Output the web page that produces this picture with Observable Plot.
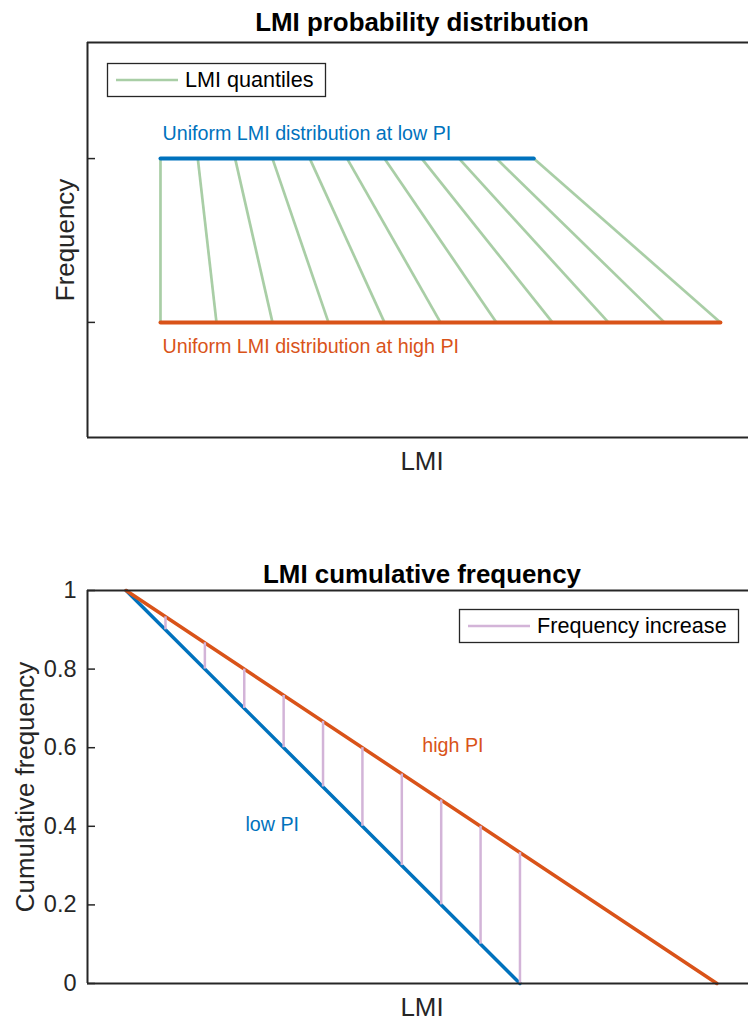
<!DOCTYPE html>
<html>
<head>
<meta charset="utf-8">
<script src="https://cdn.jsdelivr.net/npm/d3@7"></script>
<script src="https://cdn.jsdelivr.net/npm/@observablehq/plot@0.6"></script>
<style>
  html, body { margin: 0; padding: 0; background: #fff; overflow: hidden; }
  #wrap { position: relative; width: 748px; height: 1020px; overflow: hidden; font-family: "Liberation Sans", Arial, sans-serif; }
  #wrap > svg { display: block; overflow: hidden; }
  #overlay { position: absolute; left: 0; top: 0; pointer-events: none; }
</style>
</head>
<body>
<div id="wrap"></div>
<script>
// ---------- data ----------
const quantileLevels = [0, 0.1, 0.2, 0.3, 0.4, 0.5, 0.6, 0.7, 0.8, 0.9, 1.0];
const lowPI_LMI  = [0, 0.1, 0.2, 0.3, 0.4, 0.5, 0.6, 0.7, 0.8, 0.9, 1.0];
const highPI_LMI = [0, 0.15, 0.3, 0.45, 0.6, 0.75, 0.9, 1.05, 1.2, 1.35, 1.5];
const lowPI_range  = [0, 1.0];
const highPI_range = [0, 1.5];
const lowPI_density  = 1.0;
const highPI_density = 0.667;
const lowPI_cum  = [1, 0.9, 0.8, 0.7, 0.6, 0.5, 0.4, 0.3, 0.2, 0.1, 0];
const highPI_cum = [1, 0.933, 0.867, 0.8, 0.733, 0.667, 0.6, 0.533, 0.467, 0.4, 0.333];
const cumEnds = [1, 0];
const topYTicks = [highPI_density, lowPI_density];
const bottomYTicks = [0, 0.2, 0.4, 0.6, 0.8, 1];
const bottomYTickLabels = ["0", "0.2", "0.4", "0.6", "0.8", "1"];

const topTitle = "LMI probability distribution";
const bottomTitle = "LMI cumulative frequency";
const xLabel = "LMI";
const topYLabel = "Frequency";
const bottomYLabel = "Cumulative frequency";
const topLowText = {x: 0, y: 1.037, text: "Uniform LMI distribution at low PI"};
const topHighText = {x: 0, y: 0.604, text: "Uniform LMI distribution at high PI"};
const botHighText = {x: 0.752, y: 0.588, text: "high PI"};
const botLowText = {x: 0.303, y: 0.387, text: "low PI"};
const legendTop = "LMI quantiles";
const legendBottom = "Frequency increase";

// ---------- styles ----------
const BLUE = "#0072BD", ORANGE = "#D95319", GREEN = "#a9cea6", PINK = "#d3b4d8", AX = "#262626";
const FONT = "Liberation Sans, Arial, Helvetica, sans-serif";
const TITLE_FS = 25.9, LABEL_FS = 25.9, TICK_FS = 23.5, ANN_FS = 19.7, LEG_FS = 21.6;

const idx = quantileLevels.map((_, i) => i);

// ---------- top panel ----------
const topXDomain = [-0.1955, 1.594];
const topYDomain = [0.433, 1.236];
const topPlot = Plot.plot({
  width: 748, height: 500,
  marginTop: 42, marginBottom: 63, marginLeft: 87, marginRight: 0,
  x: {domain: topXDomain, range: [87, 755], axis: null},
  y: {domain: topYDomain, axis: null},
  style: {fontFamily: FONT, background: "white", overflow: "hidden"},
  marks: [
    Plot.link(idx, {x1: i => lowPI_LMI[i], y1: () => lowPI_density, x2: i => highPI_LMI[i], y2: () => highPI_density, stroke: GREEN, strokeWidth: 2.7}),
    Plot.line(lowPI_range, {x: d => d, y: () => lowPI_density, stroke: BLUE, strokeWidth: 4}),
    Plot.line(highPI_range, {x: d => d, y: () => highPI_density, stroke: ORANGE, strokeWidth: 4}),
    Plot.ruleX([topXDomain[0]], {stroke: AX, strokeWidth: 2}),
    Plot.ruleY([topYDomain[0], topYDomain[1]], {stroke: AX, strokeWidth: 2}),
    Plot.tickY(topYTicks, {y: d => d, insetRight: 653, stroke: AX, strokeWidth: 1.5}),
    Plot.text([topLowText], {x: "x", y: "y", text: "text", dx: 2, textAnchor: "start", lineAnchor: "bottom", fill: BLUE, fontSize: ANN_FS}),
    Plot.text([topHighText], {x: "x", y: "y", text: "text", dx: 2, textAnchor: "start", lineAnchor: "bottom", fill: ORANGE, fontSize: ANN_FS}),
    Plot.text([topTitle], {text: d => d, frameAnchor: "top", dx: 4, dy: -12, textAnchor: "middle", lineAnchor: "bottom", fontSize: TITLE_FS, fontWeight: "bold", fill: "#000"}),
    Plot.text([xLabel], {text: d => d, frameAnchor: "bottom", dx: 4, dy: 32, textAnchor: "middle", lineAnchor: "bottom", fontSize: LABEL_FS, fill: AX}),
    Plot.text([topYLabel], {text: d => d, frameAnchor: "left", dx: -14, rotate: -90, textAnchor: "middle", lineAnchor: "bottom", fontSize: LABEL_FS, fill: AX})
  ]
});

// ---------- bottom panel ----------
const botXDomain = [-0.098, 1.598];
const botYDomain = [0, 1];
const botPlot = Plot.plot({
  width: 748, height: 520,
  marginTop: 90, marginBottom: 37, marginLeft: 87, marginRight: 0,
  x: {domain: botXDomain, range: [87, 755], axis: null},
  y: {domain: botYDomain},
  style: {fontFamily: FONT, background: "white", overflow: "hidden"},
  marks: [
    Plot.line(lowPI_range, {x: d => d, y: (d, i) => cumEnds[i], stroke: BLUE, strokeWidth: 3.5}),
    Plot.line(highPI_range, {x: d => d, y: (d, i) => cumEnds[i], stroke: ORANGE, strokeWidth: 3.5}),
    Plot.ruleX(idx, {x: i => lowPI_LMI[i], y1: i => lowPI_cum[i], y2: i => highPI_cum[i], stroke: PINK, strokeWidth: 2.5}),
    Plot.ruleX([botXDomain[0]], {stroke: AX, strokeWidth: 2}),
    Plot.ruleY([botYDomain[0], botYDomain[1]], {stroke: AX, strokeWidth: 2}),
    Plot.tickY(bottomYTicks, {y: d => d, insetRight: 653, stroke: AX, strokeWidth: 1.5}),
    Plot.axisY({ticks: bottomYTicks, tickSize: 0, tickPadding: 11, fontSize: TICK_FS, color: AX, label: null,
      tickFormat: d => bottomYTickLabels[bottomYTicks.indexOf(d)]}),
    Plot.text([botHighText], {x: "x", y: "y", text: "text", textAnchor: "start", lineAnchor: "bottom", fill: ORANGE, fontSize: ANN_FS}),
    Plot.text([botLowText], {x: "x", y: "y", text: "text", textAnchor: "start", lineAnchor: "bottom", fill: BLUE, fontSize: ANN_FS}),
    Plot.text([bottomTitle], {text: d => d, frameAnchor: "top", dx: 4, dy: -8, textAnchor: "middle", lineAnchor: "bottom", fontSize: TITLE_FS, fontWeight: "bold", fill: "#000"}),
    Plot.text([xLabel], {text: d => d, frameAnchor: "bottom", dx: 4, dy: 32.7, textAnchor: "middle", lineAnchor: "bottom", fontSize: LABEL_FS, fill: AX}),
    Plot.text([bottomYLabel], {text: d => d, frameAnchor: "left", dx: -54, rotate: -90, textAnchor: "middle", lineAnchor: "bottom", fontSize: LABEL_FS, fill: AX})
  ]
});

const wrap = document.getElementById("wrap");
wrap.appendChild(topPlot);
wrap.appendChild(botPlot);

// ---------- legends (overlay) ----------
const ns = "http://www.w3.org/2000/svg";
const ov = d3.select(wrap).append("svg").attr("id", "overlay").attr("width", 748).attr("height", 1020)
  .attr("xmlns", ns).style("font-family", FONT);

function legend(g, x, y, w, h, color, label) {
  g.append("rect").attr("x", x + 0.5).attr("y", y + 0.5).attr("width", w).attr("height", h)
    .attr("fill", "#fff").attr("stroke", AX).attr("stroke-width", 1.3);
  g.append("line").attr("x1", x + 9).attr("x2", x + 71).attr("y1", y + 17).attr("y2", y + 17)
    .attr("stroke", color).attr("stroke-width", 2.7);
  g.append("text").attr("x", x + 78).attr("y", y + 23.6).attr("font-size", LEG_FS).attr("fill", "#000").text(label);
}
legend(ov, 107, 63, 218, 33, GREEN, legendTop);
legend(ov, 459, 609, 279, 33, PINK, legendBottom);
</script>
</body>
</html>
